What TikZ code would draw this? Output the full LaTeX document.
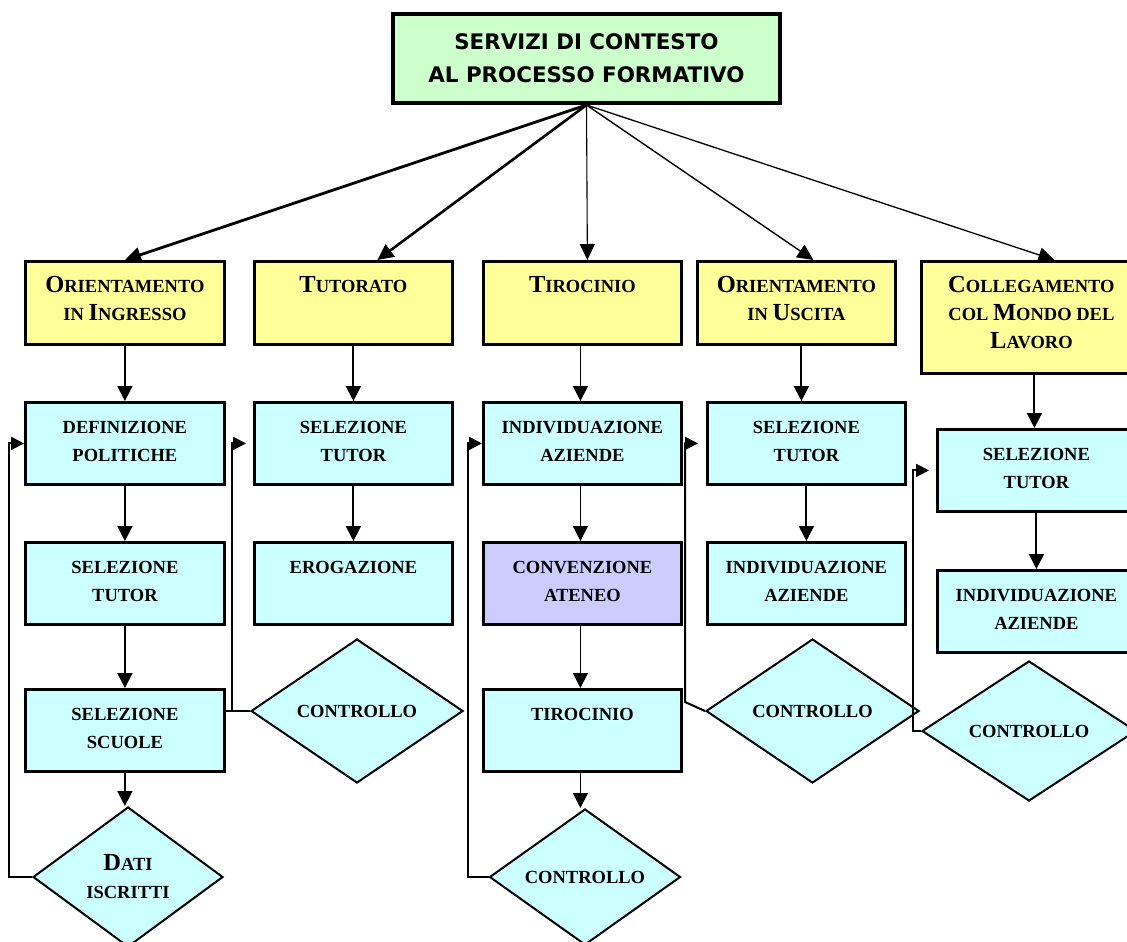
\documentclass[tikz,border=0pt]{standalone}
\usepackage{fontspec}
\setmainfont{Liberation Serif}
\newfontfamily\headfont{DejaVu Sans}
\usetikzlibrary{arrows.meta,shapes.geometric,calc}

\definecolor{headgreen}{HTML}{CCFFCC}
\definecolor{boxyellow}{HTML}{FFFF99}
\definecolor{boxcyan}{HTML}{CCFFFF}
\definecolor{boxlilac}{HTML}{CCCCFF}

% enlarged initial letter for the small-caps style labels
\newcommand{\Cap}[1]{{\fontsize{24.5pt}{28pt}\selectfont #1}}
% fixed-size box whose text hangs from the top edge
\newcommand{\boxtext}[3]{\parbox[c][#2][t]{#1}{\centering\fontsize{18.5pt}{28pt}\selectfont\bfseries\rule{0pt}{31pt}#3}}

\tikzset{
  headbox/.style={draw, line width=4pt, fill=headgreen, inner sep=0pt,
    minimum width=387pt, minimum height=89pt, align=center,
    font=\headfont\bfseries\fontsize{21.4pt}{33pt}\selectfont},
  ybox/.style={draw, line width=2.8pt, fill=boxyellow, inner sep=0pt, anchor=north west},
  cbox/.style={draw, line width=2.8pt, fill=boxcyan, inner sep=0pt, anchor=north west},
  lbox/.style={cbox, fill=boxlilac},
  dia/.style={draw, diamond, line width=2pt, fill=boxcyan, inner sep=0pt, align=center,
    font=\bfseries\fontsize{18.5pt}{28pt}\selectfont},
  arr/.style={line width=2pt, -{Triangle[length=15pt,width=15pt]}},
  thinarr/.style={line width=1.4pt, -{Triangle[length=15pt,width=15pt]}},
  fb/.style={line width=2pt, -{Triangle[length=13pt,width=13pt]}},
  fan/.style={-{Triangle[length=16pt,width=15pt]}},
}

\begin{document}
\begin{tikzpicture}[x=1pt,y=-1pt]
\useasboundingbox (0,0) rectangle (1127,942);
\clip (0,0) rectangle (1127,942);

% root
\node[headbox] (T) at (586.5,58.5) {SERVIZI DI CONTESTO\\AL PROCESSO FORMATIVO};

% service headings
\node[ybox] (Y1) at (24,260)  {\boxtext{199pt}{83pt}{\Cap{O}RIENTAMENTO\\IN \Cap{I}NGRESSO}};
\node[ybox] (Y2) at (253,260) {\boxtext{198pt}{83pt}{\Cap{T}UTORATO}};
\node[ybox] (Y3) at (482,260) {\boxtext{198pt}{83pt}{\Cap{T}IROCINIO}};
\node[ybox] (Y4) at (696,260) {\boxtext{198pt}{83pt}{\Cap{O}RIENTAMENTO\\IN \Cap{U}SCITA}};
\node[ybox] (Y5) at (920,260) {\boxtext{220pt}{112pt}{\Cap{C}OLLEGAMENTO\\COL \Cap{M}ONDO DEL\\\Cap{L}AVORO}};

% first activity row
\node[cbox] (C1a) at (24,401)  {\boxtext{199pt}{82pt}{DEFINIZIONE\\POLITICHE}};
\node[cbox] (C2a) at (253,401) {\boxtext{198pt}{82pt}{SELEZIONE\\TUTOR}};
\node[cbox] (C3a) at (482,401) {\boxtext{198pt}{82pt}{INDIVIDUAZIONE\\AZIENDE}};
\node[cbox] (C4a) at (706,401) {\boxtext{198pt}{82pt}{SELEZIONE\\TUTOR}};
\node[cbox] (C5a) at (936,428) {\boxtext{198pt}{82pt}{SELEZIONE\\TUTOR}};

% second activity row
\node[cbox] (C1b) at (24,541)  {\boxtext{199pt}{82pt}{SELEZIONE\\TUTOR}};
\node[cbox] (C2b) at (253,541) {\boxtext{198pt}{82pt}{EROGAZIONE}};
\node[lbox] (C3b) at (482,541) {\boxtext{198pt}{82pt}{CONVENZIONE\\ATENEO}};
\node[cbox] (C4b) at (706,541) {\boxtext{198pt}{82pt}{INDIVIDUAZIONE\\AZIENDE}};
\node[cbox] (C5b) at (936,569) {\boxtext{198pt}{82pt}{INDIVIDUAZIONE\\AZIENDE}};

% third activity row
\node[cbox] (C1c) at (24,688)  {\boxtext{199pt}{82pt}{SELEZIONE\\SCUOLE}};
\node[cbox] (C3c) at (482,688) {\boxtext{198pt}{82pt}{TIROCINIO}};

% checks
\node[dia, minimum width=190pt, minimum height=140pt] (D1) at (128,877) {\Cap{D}ATI\\ISCRITTI};
\node[dia, minimum width=212pt, minimum height=144pt] (D2) at (357,711) {CONTROLLO};
\node[dia, minimum width=191pt, minimum height=136pt] (D3) at (585,877) {CONTROLLO};
\node[dia, minimum width=213pt, minimum height=144pt] (D4) at (812.5,711) {CONTROLLO};
\node[dia, minimum width=214pt, minimum height=140pt] (D5) at (1029,731) {CONTROLLO};

% fan-out from the root
\draw[fan, line width=2.8pt] (T.south) -- (Y1.north);
\draw[fan, line width=2.6pt] (T.south) -- ($(Y2.north)+(24,0)$);
\draw[fan, line width=1.1pt] (T.south) -- ($(Y3.north)+(5,0)$);
\draw[fan, line width=1.4pt] (T.south) -- ($(Y4.north)+(17,0)$);
\draw[fan, line width=1.3pt] (T.south) -- ($(Y5.north)+(23,0)$);

% column 1
\draw[arr] (Y1.south) -- (C1a.north);
\draw[arr] (C1a.south) -- (C1b.north);
\draw[arr] (C1b.south) -- (C1c.north);
\draw[arr] (C1c.south) -- (C1c.south |- D1.north);
\draw[fb] (D1.west) -- ++(-23,0) |- (C1a.west);

% column 2
\draw[arr] (Y2.south) -- (C2a.north);
\draw[arr] (C2a.south) -- (C2b.north);
\draw[line width=2pt] (D2.west) -- ++(-25,0);
\draw[fb] ([xshift=-18pt]D2.west) |- ([xshift=-7pt]C2a.west);

% column 3
\draw[thinarr] ([xshift=-2pt]Y3.south) -- ([xshift=-2pt]C3a.north);
\draw[thinarr] ([xshift=-2pt]C3a.south) -- ([xshift=-2pt]C3b.north);
\draw[thinarr] ([xshift=-2pt]C3b.south) -- ([xshift=-2pt]C3c.north);
\draw[thinarr] ([xshift=-2pt]C3c.south) -- ([xshift=-2pt]C3c.south |- D3.north);
\draw[fb] (D3.west) -- ++(-21,0) |- (C3a.west);

% column 4
\draw[arr] ([xshift=5pt]Y4.south) -- ([xshift=-5pt]C4a.north);
\draw[arr] (C4a.south) -- (C4b.north);
\draw[fb] (D4.west) -- ++(-20,-9) |- ([xshift=-8pt]C4a.west);

% column 5
\draw[arr] ([xshift=3pt]Y5.south) -- ([xshift=-2pt]C5a.north);
\draw[arr] (C5a.south) -- (C5b.north);
\draw[fb] (D5.west) -- ++(-8,0) |- ([xshift=-7pt]C5a.west);
\end{tikzpicture}
\end{document}
